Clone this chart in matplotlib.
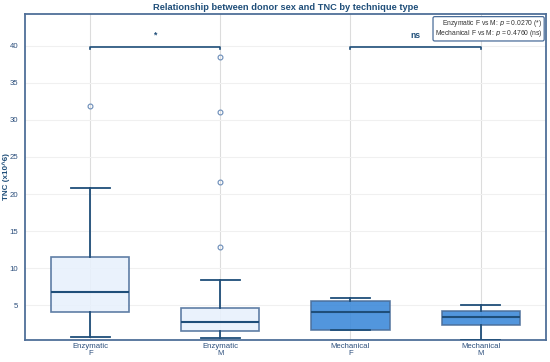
import matplotlib.pyplot as plt

plt.rcParams['font.family'] = ['Liberation Sans', 'DejaVu Sans']

# values
groups = ['Enzymatic\nF', 'Enzymatic\nM', 'Mechanical\nF', 'Mechanical\nM']
whislo = [0.8, 0.65, 1.65, 0.3]
q1 = [4.05, 1.55, 1.7, 2.3]
med = [6.75, 2.75, 4.05, 3.4]
q3 = [11.55, 4.7, 5.55, 4.2]
whishi = [20.8, 8.45, 6.0, 5.05]
fliers = [[31.9], [12.9, 21.6, 31.0, 38.5], [], []]
fills = ['#e8f1fc', '#e8f1fc', '#3a88d9', '#3a88d9']

brackets = [(0, 1, '*'), (2, 3, 'ns')]
stat_text = ('Enzymatic F vs M: $\\mathit{p}$ = 0.0270 (*)\n'
             'Mechanical F vs M: $\\mathit{p}$ = 0.4760 (ns)')

navy = '#1f4e79'
edge = '#4a6d99'

fig, ax = plt.subplots(figsize=(5.5, 3.62), dpi=100)
fig.subplots_adjust(left=0.046, right=0.992, top=0.962, bottom=0.06)

stats = []
for i in range(len(groups)):
    stats.append(dict(whislo=whislo[i], q1=q1[i], med=med[i], q3=q3[i],
                      whishi=whishi[i], fliers=fliers[i]))

bp = ax.bxp(stats, positions=range(len(groups)), widths=0.6, patch_artist=True,
            boxprops=dict(edgecolor=edge, linewidth=1.2),
            medianprops=dict(color=navy, linewidth=1.5),
            whiskerprops=dict(color=navy, linewidth=1.3),
            capprops=dict(color=navy, linewidth=1.3),
            flierprops=dict(marker='o', markersize=3.5, markerfacecolor='none',
                            markeredgecolor='#6a8cb8', markeredgewidth=0.8),
            zorder=3)
for patch, c in zip(bp['boxes'], fills):
    patch.set_facecolor(c)
    patch.set_alpha(0.88)

# significance brackets
for a, b, lab in brackets:
    y = 39.8
    ax.plot([a, a, b, b], [y - 0.3, y, y, y - 0.3], color=navy, lw=1.2, zorder=4)
    ax.text((a + b) / 2, y + 1.6, lab, ha='center', va='center', fontsize=6.2,
            fontweight='bold', color=navy, zorder=6)

ax.text(0.994, 0.986, stat_text, transform=ax.transAxes, ha='right', va='top',
        fontsize=4.9, color='#333333', linespacing=0.85,
        bbox=dict(boxstyle='round,pad=0.25', facecolor='white', edgecolor=edge, lw=0.9),
        zorder=5)

ax.set_xlim(-0.5, 3.5)
ax.set_ylim(0.3, 44.3)
ax.set_xticks(range(len(groups)))
ax.set_xticklabels(groups, fontsize=5.6, color='#2c4f7c', linespacing=0.95)
ax.set_yticks([5, 10, 15, 20, 25, 30, 35, 40])
ax.tick_params(axis='y', labelsize=5.6, labelcolor='#2c4f7c', length=0, pad=5)
ax.tick_params(axis='x', length=0, pad=2)
ax.grid(True, axis='x', color='#dcdcdc', lw=0.8, zorder=0)
ax.grid(True, axis='y', color='#f0f0f0', lw=0.8, zorder=0)
ax.set_axisbelow(True)
for s in ax.spines.values():
    s.set_color('#4f6f98')
    s.set_linewidth(1.3)

ax.set_ylabel('TNC (x10^6)', fontsize=5.8, fontweight='bold', color=navy)
ax.yaxis.set_label_coords(-0.030, 0.5)
ax.set_title('Relationship between donor sex and TNC by technique type',
             fontsize=6.7, fontweight='bold', color=navy, pad=2.5)

fig.savefig('out.png', dpi=100)
